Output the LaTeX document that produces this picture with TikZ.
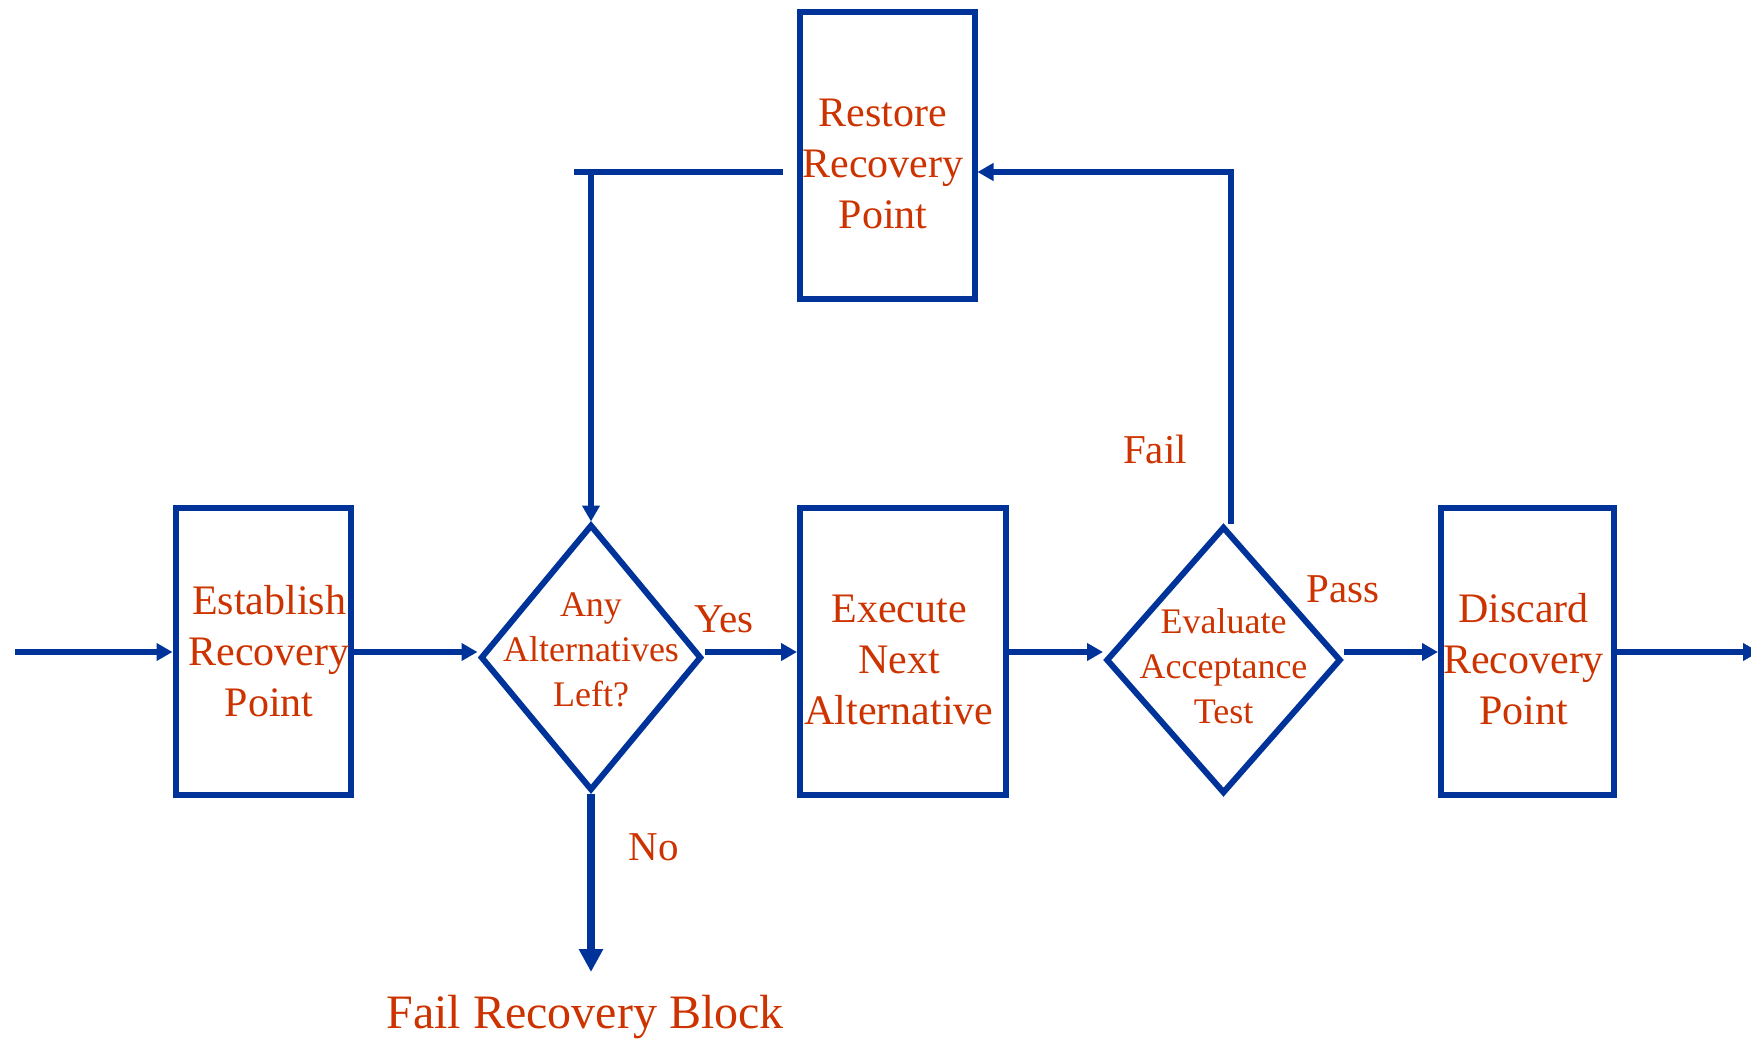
\documentclass[tikz,border=0pt]{standalone}
\usepackage{fontspec}
\setmainfont{Liberation Serif}
\usetikzlibrary{shapes.geometric,arrows.meta,calc}
\definecolor{fblue}{HTML}{003399}
\definecolor{ftext}{HTML}{CC3300}
\begin{document}
\begin{tikzpicture}[x=1pt,y=-1pt,
  box/.style={draw=fblue,line width=6pt,minimum width=175pt,minimum height=287pt,inner sep=0pt},
  dia/.style={draw=fblue,line width=6pt,diamond,inner sep=0pt},
  btxt/.style={text=ftext,align=center,font=\fontsize{42}{51}\selectfont},
  dtxt/.style={text=ftext,align=center,font=\fontsize{36}{45}\selectfont},
  lbl/.style={text=ftext,font=\fontsize{41}{49}\selectfont,anchor=base},
  conn/.style={draw=fblue,line width=6pt},
  arr/.style={conn,-{Triangle[length=16pt,width=17pt]}},
  bigarr/.style={draw=fblue,line width=8pt,-{Triangle[length=23pt,width=23pt]}}
]
\useasboundingbox (0,0) rectangle (1751,1039);

\node[box] (est) at (263,651.5) {};
\node[btxt,xshift=6pt] (estt) at (est) {Establish\\Recovery\\Point};
\node[box,minimum width=206pt] (exe) at (903,651.5) {};
\node[btxt,yshift=-8pt,xshift=-4pt] (exet) at (exe) {Execute\\Next\\Alternative};
\node[box,minimum width=173pt] (dis) at (1527.5,651.5) {};
\node[btxt,yshift=-8pt,xshift=-4pt] (dist) at (dis) {Discard\\Recovery\\Point};
\node[box] (res) at (887,155.5) {};
\node[btxt,yshift=-8pt,xshift=-4pt] (rest) at (res) {Restore\\Recovery\\Point};

\node[dia,minimum width=221pt,minimum height=266pt] (d1) at (591,657.5) {};
\node[dtxt,yshift=7.5pt] (d1t) at (d1) {Any\\Alternatives\\Left?};
\node[dia,minimum width=235pt,minimum height=267pt] (d2) at (1223.5,660) {};
\node[dtxt,yshift=-6pt] (d2t) at (d2) {Evaluate\\Acceptance\\Test};

\coordinate (in) at (15,652);
\coordinate (out) at (1759,652);
\coordinate (tr) at (1231,172);
\coordinate (tl) at (574,172);
\coordinate (tm) at (783,172);
\coordinate (noend) at (591,972);

\draw[arr] (in) -- (in -| est.west);
\draw[arr] (in -| est.east) -- (in -| d1.west);
\draw[arr] (in -| d1.east) -- (in -| exe.west);
\draw[arr] (in -| exe.east) -- (in -| d2.west);
\draw[arr] (in -| d2.east) -- (in -| dis.west);
\draw[arr] (in -| dis.east) -- (out);
\draw[arr] (tr |- d2.north) -- (tr) -- (tr -| res.east);
\draw[conn] (tm) -- (tl);
\draw[arr] (d1.north |- tl) -- (d1.north);
\draw[bigarr] (d1.south) -- (d1.south |- noend);

\node[lbl] (yes) at (724,632) {Yes};
\node[lbl] (pass) at (1343,602) {Pass};
\node[lbl] (no) at (654,860) {No};
\node[lbl] (fail) at (1155,463) {Fail};
\node[lbl,font=\fontsize{48}{58}\selectfont] (frb) at (585,1028) {Fail Recovery Block};
\end{tikzpicture}
\end{document}
